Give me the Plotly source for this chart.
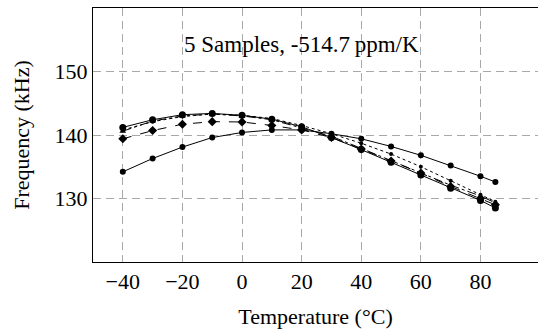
import plotly.graph_objects as go

temps = [-40, -30, -20, -10, 0, 10, 20, 30, 40, 50, 60, 70, 80, 85]

sample_1 = [141.2, 142.4, 143.2, 143.4, 143.1, 142.5, 141.3, 139.6, 137.7, 135.7, 133.7, 131.6, 129.7, 128.5]
sample_2 = [139.4, 140.7, 141.7, 142.1, 142.05, 141.5, 140.8, 139.6, 137.8, 135.9, 134.0, 131.9, 130.0, 129.0]
sample_3 = [140.8, 142.1, 142.9, 143.3, 143.1, 142.6, 141.5, 140.2, 138.7, 137.0, 135.0, 132.8, 130.6, 129.5]
sample_4 = [140.6, 142.2, 143.0, 143.3, 143.0, 142.4, 141.1, 139.8, 137.9, 136.0, 134.0, 132.1, 130.4, 129.3]
sample_5 = [134.2, 136.3, 138.1, 139.6, 140.4, 140.8, 140.8, 140.2, 139.4, 138.2, 136.8, 135.2, 133.5, 132.6]

series = [
    (sample_1, "solid", "circle", 7),
    (sample_2, "dash", "diamond", 7),
    (sample_3, "dot", "circle", 4),
    (sample_4, "dashdot", "triangle-up", 6),
    (sample_5, "solid", "circle", 6),
]

x_ticks = [-40, -20, 0, 20, 40, 60, 80]
x_ticktext = ["\u221240", "\u221220", "0", "20", "40", "60", "80"]
y_ticks = [130, 140, 150]

annotation_text = "5 Samples, -514.7\u2009ppm/K"

FONT = "Liberation Serif"
FS = 22

fig = go.Figure()
for vals, dash, sym, sz in series:
    fig.add_trace(go.Scatter(
        x=temps, y=vals, mode="lines+markers",
        line=dict(color="black", width=1, dash=dash),
        marker=dict(color="black", symbol=sym, size=sz),
        showlegend=False,
    ))

fig.add_annotation(x=20, y=154.3, xref="x", yref="y", text=annotation_text,
                   showarrow=False, font=dict(family=FONT, size=23, color="black"))

grid = dict(showgrid=True, gridcolor="#a8a8a8", gridwidth=1, griddash="8px,5px",
            zeroline=False, showline=True, linecolor="black", linewidth=1,
            ticks="", tickfont=dict(family=FONT, size=FS, color="black"))

fig.update_layout(
    width=538, height=330,
    margin=dict(l=93, r=0, t=8, b=68),
    paper_bgcolor="white", plot_bgcolor="white",
    xaxis=dict(range=[-50, 99.3], tickvals=x_ticks, ticktext=x_ticktext,
               mirror=True,
               title=dict(text="Temperature (\u00b0C)", font=dict(family=FONT, size=FS, color="black"),
                          standoff=15),
               **grid),
    yaxis=dict(range=[120, 160], tickvals=y_ticks, mirror=False,
               title=dict(text="Frequency (kHz)", font=dict(family=FONT, size=FS, color="black"),
                          standoff=18),
               **grid),
)

fig.write_html("out.html")
